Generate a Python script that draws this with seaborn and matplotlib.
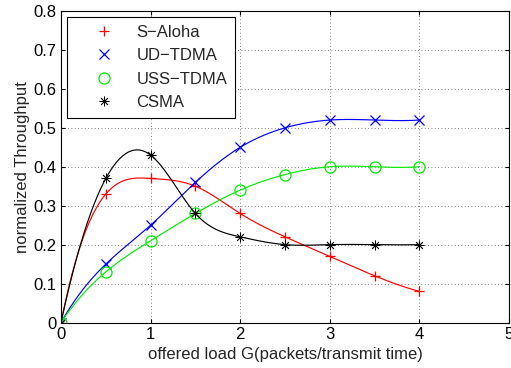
import numpy as np
import pandas as pd
import matplotlib
matplotlib.use("Agg")
import matplotlib.pyplot as plt
import seaborn as sns

G = [0, 0.5, 1, 1.5, 2, 2.5, 3, 3.5, 4]
s_aloha = [0, 0.33, 0.37, 0.35, 0.28, 0.22, 0.17, 0.12, 0.08]
ud_tdma = [0, 0.15, 0.25, 0.36, 0.45, 0.50, 0.52, 0.52, 0.52]
uss_tdma = [0, 0.13, 0.21, 0.28, 0.34, 0.38, 0.40, 0.40, 0.40]
csma = [0, 0.37, 0.43, 0.28, 0.22, 0.20, 0.20, 0.20, 0.20]
labels = ["S\u2212Aloha", "UD\u2212TDMA", "USS\u2212TDMA", "CSMA"]
series = [s_aloha, ud_tdma, uss_tdma, csma]
colors = ["red", "blue", "#00ee00", "black"]
markers = ["+", "x", "o", (8, 2, 0)]


def spline_notaknot(x, y, xs):
    x = np.asarray(x, float); y = np.asarray(y, float)
    n = len(x); h = np.diff(x)
    A = np.zeros((n, n)); b = np.zeros(n)
    for i in range(1, n - 1):
        A[i, i - 1] = h[i - 1]; A[i, i] = 2 * (h[i - 1] + h[i]); A[i, i + 1] = h[i]
        b[i] = 6 * ((y[i + 1] - y[i]) / h[i] - (y[i] - y[i - 1]) / h[i - 1])
    A[0, 0] = h[1]; A[0, 1] = -(h[0] + h[1]); A[0, 2] = h[0]
    A[-1, -3] = h[-1]; A[-1, -2] = -(h[-2] + h[-1]); A[-1, -1] = h[-2]
    M = np.linalg.solve(A, b)
    idx = np.clip(np.searchsorted(x, xs) - 1, 0, n - 2)
    x0 = x[idx]; x1 = x[idx + 1]; hh = x1 - x0
    t0 = x1 - xs; t1 = xs - x0
    return (M[idx] * t0**3 + M[idx + 1] * t1**3) / (6 * hh) + \
        (y[idx] / hh - M[idx] * hh / 6) * t0 + (y[idx + 1] / hh - M[idx + 1] * hh / 6) * t1


sns.set_style("ticks")
plt.rcParams["font.family"] = ["Liberation Sans", "DejaVu Sans"]
fig = plt.figure(figsize=(5.11, 3.68), dpi=100)
ax = fig.add_axes([0.1194, 0.1236, 0.8767, 0.8465])

xs = np.linspace(0, 4, 400)
for lab, ys, c, m in zip(labels, series, colors, markers):
    curve = pd.DataFrame({"G": xs, "T": spline_notaknot(G, ys, xs)})
    sns.lineplot(data=curve, x="G", y="T", color=c, lw=0.85, ax=ax, legend=False)
    df = pd.DataFrame({"G": G, "T": ys})
    ms = 8 if m == "o" else 7
    mew = 0.6 if m == (8, 2, 0) else 0.9
    ax.plot(df["G"], df["T"], ls="none", marker=m, color=c, ms=ms,
            mfc="none", mew=mew, label=lab)

ax.set_xlim(0, 5)
ax.set_ylim(0, 0.8)
ax.set_xticks(range(0, 6))
ax.set_yticks(np.arange(0, 0.81, 0.1))
ax.set_yticklabels(["0", "0.1", "0.2", "0.3", "0.4", "0.5", "0.6", "0.7", "0.8"])
ax.grid(True, ls=(0, (1, 3)), color="#555555", lw=0.6)
for sp in ax.spines.values():
    sp.set_visible(True); sp.set_color("black"); sp.set_linewidth(0.8)
ax.tick_params(direction="in", length=3, labelsize=12, colors="black", top=True, right=True, pad=3)
ax.set_xlabel("offered load G(packets/transmit time)", fontsize=12, labelpad=4)
ax.set_ylabel("normalized Throughput", fontsize=12, labelpad=3)
leg = ax.legend(loc="upper left", bbox_to_anchor=(0.0134, 0.981), borderaxespad=0,
                fontsize=12, frameon=True, fancybox=False, edgecolor="black", framealpha=1,
                handlelength=3.5, handletextpad=0.2, borderpad=0.47, labelspacing=0.51)
leg.get_frame().set_linewidth(0.8)
fig.savefig("out.png", dpi=100)
